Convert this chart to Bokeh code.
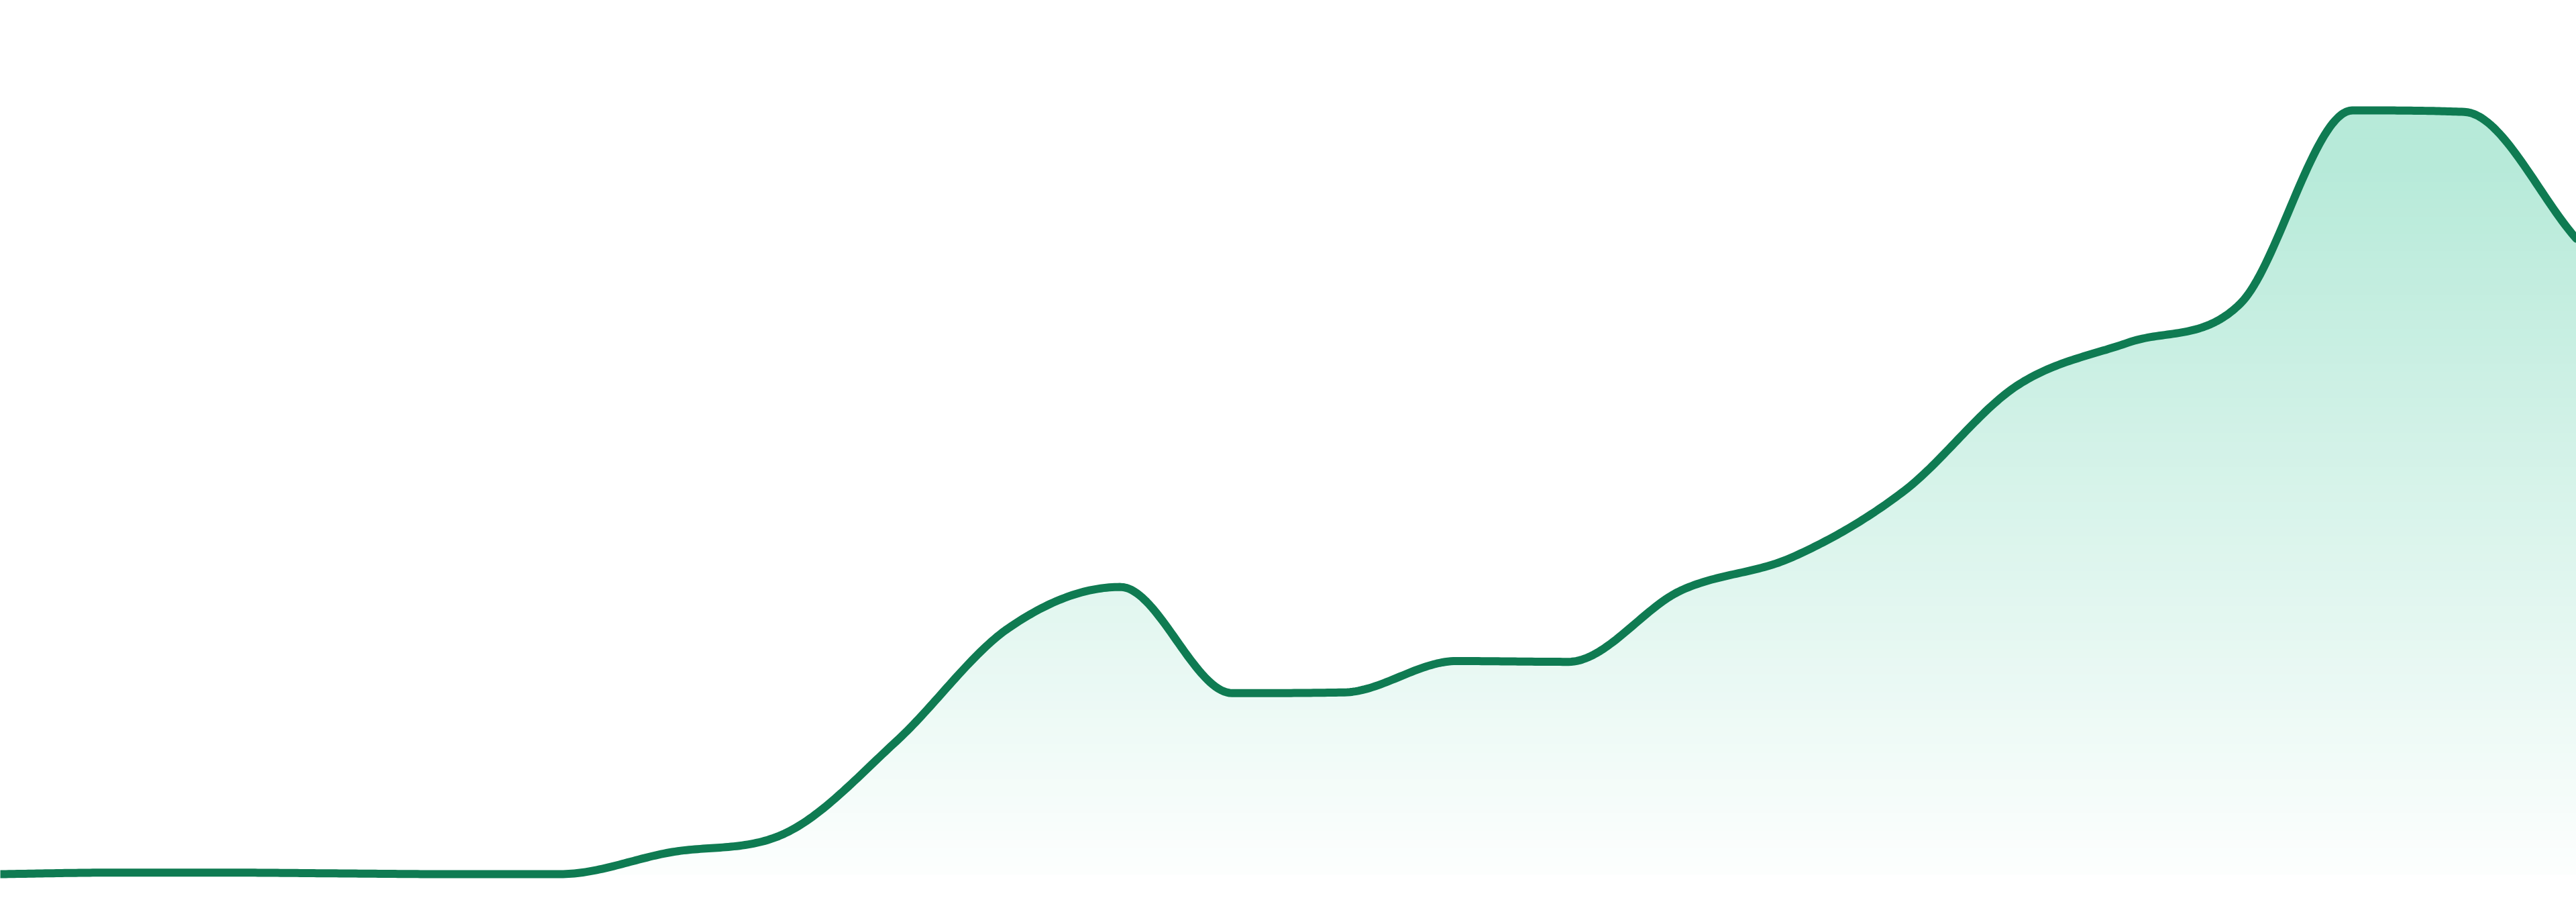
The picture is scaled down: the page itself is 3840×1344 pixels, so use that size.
import numpy as np
from bokeh.plotting import figure
from bokeh.models import Range1d
from bokeh.embed import file_html
from bokeh.resources import INLINE

# ---- data ----
periods = list(range(24))
values = [0, 2, 2, 1, 0, 0, 29, 53, 174, 322, 376, 237, 238, 279, 278,
          371, 415, 502, 639, 696, 747, 1000, 998, 832]

LINE_COLOR = "#0f7b52"
FILL_RGB = (16, 185, 129)

# ---- layout constants ----
W, H = 3840, 1344           # plot size
OFF = 0                     # page offset of the plot frame
REF_W = 3840                # full window width the curve spans
STEP = REF_W / (len(periods) - 1)
PX_PER_UNIT = 1.138         # vertical pixels per value unit
BASE_Y = 1302               # page y of value 0

x_lo = OFF / STEP
x_hi = (OFF + W) / STEP
y_hi = (BASE_Y - OFF) / PX_PER_UNIT
y_lo = (BASE_Y - (OFF + H)) / PX_PER_UNIT


def monotone_tangents(x, y):
    n = len(x)
    d = np.diff(y) / np.diff(x)
    m = np.zeros(n)
    m[0] = d[0]
    m[-1] = d[-1]
    for i in range(1, n - 1):
        if np.sign(d[i - 1]) != np.sign(d[i]):
            m[i] = 0.0
        else:
            m[i] = (d[i - 1] + d[i]) / 2
    for i in range(n - 1):
        if abs(d[i]) < 1e-12:
            m[i] = m[i + 1] = 0.0
            continue
        a = m[i] / d[i]
        b = m[i + 1] / d[i]
        s = a * a + b * b
        if s > 9:
            t = 3 / np.sqrt(s)
            m[i] = a * t * d[i]
            m[i + 1] = b * t * d[i]
    return m


def monotone_path(x, y, k=40):
    x = np.asarray(x, float)
    y = np.asarray(y, float)
    m = monotone_tangents(x, y)
    xs, ys = [], []
    for i in range(len(x) - 1):
        h = x[i + 1] - x[i]
        t = np.linspace(0, 1, k, endpoint=(i == len(x) - 2))
        h00 = 2 * t**3 - 3 * t**2 + 1
        h10 = t**3 - 2 * t**2 + t
        h01 = -2 * t**3 + 3 * t**2
        h11 = t**3 - t**2
        xs.append(x[i] + t * h)
        ys.append(h00 * y[i] + h10 * h * m[i] + h01 * y[i + 1] + h11 * h * m[i + 1])
    return np.concatenate(xs), np.concatenate(ys)


cx, cy = monotone_path(periods, values)

p = figure(width=W, height=H, x_range=Range1d(x_lo, x_hi), y_range=Range1d(y_lo, y_hi),
           output_backend="svg", toolbar_location=None, min_border=0,
           x_axis_location=None, y_axis_location=None)
p.grid.visible = False
p.outline_line_color = None
p.background_fill_color = "white"
p.border_fill_color = "white"


def alpha_at(v):
    page_y = BASE_Y - v * PX_PER_UNIT
    return float(np.clip(0.3 * (1340 - page_y) / (1340 - 250), 0.0, 0.3))


def blend(a):
    r, g, b = (round(255 - a * (255 - c)) for c in FILL_RGB)
    return "#%02x%02x%02x" % (r, g, b)


# vertical gradient fill: stacked bands, highest first
top = max(values) * 1.02
n_bands = 90
tops = np.linspace(top, 0, n_bands + 1)[:-1]
band_h = top / n_bands
for t in tops:
    mid = t - band_h / 2
    p.varea(x=cx, y1=np.zeros_like(cy), y2=np.minimum(cy, t),
            fill_color=blend(alpha_at(mid)), fill_alpha=1.0)

p.line(cx, cy, line_color=LINE_COLOR, line_width=12, line_join="round", line_cap="round")

open("out.html", "w").write(file_html(p, INLINE))
